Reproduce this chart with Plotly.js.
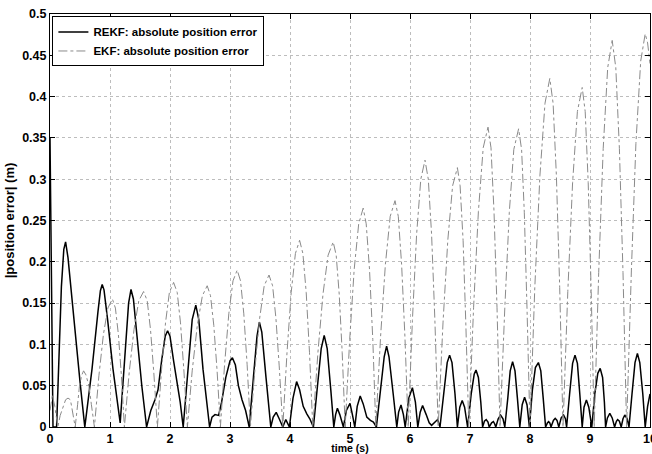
<!DOCTYPE html>
<html>
<head>
<meta charset="utf-8">
<script src="https://cdn.plot.ly/plotly-3.0.1.min.js"></script>
<style>html,body{margin:0;padding:0;background:#fff;overflow:hidden;}#chart{width:652px;height:454px;}</style>
</head>
<body>
<div id="chart"></div>
<script>
// REKF absolute position error (time in s, error in m)
const rekfT = [0,0.05,0.11,0.15,0.19,0.23,0.26,0.30,0.40,0.50,0.58,
  0.70,0.80,0.84,0.87,0.90,0.96,1.05,1.17,
  1.25,1.31,1.35,1.39,1.45,1.53,1.61,
  1.68,1.75,1.80,1.86,1.92,1.96,2.00,2.06,2.12,2.17,2.22,
  2.30,2.37,2.43,2.48,2.55,2.62,2.66,
  2.70,2.75,2.81,2.86,2.93,3.00,3.04,3.09,3.14,3.20,3.26,3.32,
  3.39,3.45,3.49,3.53,3.60,3.68,
  3.72,3.77,3.82,3.88,3.93,3.99,4.05,4.11,4.16,4.22,4.28,4.33,4.39,
  4.46,4.52,4.57,4.62,4.68,4.73,
  4.76,4.79,4.83,4.89,4.94,5.00,5.04,5.08,5.12,5.17,5.22,5.28,5.34,5.39,5.44,
  5.51,5.57,5.61,5.65,5.72,5.78,
  5.81,5.85,5.89,5.92,5.98,6.04,6.09,6.13,6.17,6.21,6.27,6.32,6.36,6.42,6.46,6.50,
  6.56,6.62,6.66,6.70,6.75,6.79,
  6.83,6.87,6.91,6.96,7.02,7.07,7.10,7.14,7.18,7.21,7.24,7.27,7.30,7.32,7.36,7.39,7.41,7.43,7.47,7.51,7.55,7.58,
  7.63,7.67,7.71,7.75,7.79,7.83,
  7.87,7.91,7.95,7.99,8.04,8.09,8.14,8.18,8.22,8.26,
  8.29,8.31,8.33,8.35,8.39,8.42,8.45,8.48,8.52,8.56,8.59,8.61,
  8.66,8.71,8.75,8.79,8.83,8.87,
  8.90,8.94,8.98,9.03,9.08,9.13,9.17,9.21,9.24,9.26,
  9.29,9.33,9.37,9.41,9.44,9.46,9.49,9.52,9.55,9.58,9.62,9.65,
  9.70,9.75,9.79,9.83,9.88,9.92,9.96,10.0];
const rekfErr = [0.35,0,0,0.09,0.17,0.215,0.224,0.205,0.125,0.055,0,
  0.07,0.14,0.165,0.1725,0.166,0.13,0.07,0.005,
  0.09,0.15,0.1665,0.155,0.11,0.05,0,
  0.02,0.033,0.045,0.08,0.11,0.1165,0.11,0.08,0.055,0.03,0,
  0.07,0.13,0.1475,0.13,0.07,0.02,0,
  0.012,0.015,0.014,0.03,0.06,0.08,0.0838,0.075,0.05,0.033,0.02,0,
  0.06,0.11,0.127,0.115,0.06,0,
  0.012,0.0177,0.01,0,0.009,0,0.035,0.055,0.045,0.025,0.016,0.01,0,
  0.05,0.095,0.111,0.095,0.045,0,
  0.015,0.0226,0.015,0,0.02,0.0286,0.015,0,0.025,0.0375,0.028,0.012,0.008,0.006,0,
  0.045,0.085,0.098,0.085,0.04,0,
  0.018,0.0266,0.015,0,0.035,0.0476,0.03,0,0.018,0.026,0.015,0.005,0.002,0.007,0.009,0,
  0.04,0.078,0.087,0.078,0.04,0,
  0.024,0.032,0.024,0,0.04,0.064,0.069,0.06,0.03,0,0.007,0.009,0.006,0,0.005,0.0065,0.004,0,0.01,0.0145,0.01,0,
  0.035,0.068,0.079,0.068,0.035,0,
  0.027,0.036,0.027,0,0.045,0.072,0.078,0.068,0.035,0,
  0.005,0.0065,0.005,0,0.008,0.0105,0.008,0,0.011,0.0145,0.01,0,
  0.04,0.077,0.087,0.077,0.04,0,
  0.024,0.0326,0.024,0,0.04,0.065,0.071,0.06,0.03,0,
  0.011,0.0165,0.011,0,0.007,0.009,0.007,0,0.01,0.0145,0.01,0,
  0.04,0.078,0.089,0.078,0.04,0,0.025,0.04];

// EKF absolute position error
const ekfT = [0,0.04,0.08,0.13,
  0.17,0.22,0.26,0.30,0.34,0.36,0.39,0.42,
  0.46,0.49,0.53,0.56,0.60,0.65,0.69,0.74,
  0.815,0.89,0.965,1.04,1.09,1.14,1.19,1.24,
  1.32,1.40,1.48,1.56,1.62,1.675,1.73,1.79,
  1.86,1.925,1.99,2.06,2.12,2.175,2.23,2.29,
  2.37,2.455,2.54,2.62,2.675,2.73,2.785,2.84,
  2.91,2.98,3.05,3.12,3.175,3.23,3.285,3.34,
  3.42,3.495,3.57,3.65,3.71,3.765,3.82,3.88,
  3.95,4.02,4.09,4.16,4.215,4.27,4.325,4.38,
  4.465,4.55,4.635,4.72,4.77,4.82,4.87,4.92,
  4.995,5.07,5.145,5.22,5.27,5.325,5.38,5.43,
  5.51,5.59,5.67,5.75,5.805,5.86,5.915,5.97,
  6.04,6.11,6.18,6.25,6.305,6.36,6.415,6.47,
  6.55,6.63,6.71,6.79,6.835,6.885,6.93,6.98,
  7.06,7.14,7.22,7.30,7.35,7.40,7.45,7.50,
  7.58,7.655,7.73,7.81,7.86,7.905,7.95,8.00,
  8.08,8.165,8.25,8.33,8.385,8.44,8.495,8.55,
  8.63,8.71,8.79,8.87,8.92,8.97,9.02,9.07,
  9.145,9.22,9.295,9.37,9.43,9.49,9.55,9.61,
  9.69,9.765,9.845,9.92,9.96,10.0];
const ekfErr = [0.02,0.038,0.025,0,
  0.014,0.025,0.033,0.035,0.033,0.025,0.014,0,
  0.027,0.049,0.063,0.068,0.063,0.049,0.027,0,
  0.062,0.112,0.144,0.155,0.144,0.112,0.062,0,
  0.066,0.118,0.153,0.164,0.153,0.118,0.066,0,
  0.07,0.126,0.163,0.175,0.163,0.126,0.07,0,
  0.068,0.123,0.159,0.171,0.159,0.123,0.068,0,
  0.076,0.137,0.177,0.19,0.177,0.137,0.076,0,
  0.074,0.132,0.171,0.184,0.171,0.132,0.074,0,
  0.09,0.163,0.21,0.226,0.21,0.163,0.09,0,
  0.09,0.161,0.208,0.224,0.208,0.161,0.09,0,
  0.106,0.191,0.246,0.265,0.246,0.191,0.106,0,
  0.11,0.197,0.255,0.274,0.255,0.197,0.11,0,
  0.129,0.233,0.30,0.323,0.30,0.233,0.129,0,
  0.126,0.226,0.292,0.314,0.292,0.226,0.126,0,
  0.145,0.261,0.338,0.363,0.338,0.261,0.145,0,
  0.144,0.26,0.336,0.361,0.336,0.26,0.144,0,
  0.169,0.304,0.392,0.422,0.392,0.304,0.169,0,
  0.164,0.296,0.382,0.411,0.382,0.296,0.164,0,
  0.187,0.337,0.435,0.468,0.435,0.337,0.187,0,
  0.19,0.343,0.443,0.476,0.465,0.44];

const seriesNames = ['REKF: absolute position error', 'EKF: absolute position error'];
const xTicks = [0,1,2,3,4,5,6,7,8,9,10];
const xTickText = ['0','1','2','3','4','5','6','7','8','9','10'];
const yTicks = [0,0.05,0.1,0.15,0.2,0.25,0.3,0.35,0.4,0.45,0.5];
const yTickText = ['0','0.05','0.1','0.15','0.2','0.25','0.3','0.35','0.4','0.45','0.5'];

const fontFam = 'Arial, Liberation Sans, sans-serif';

const traces = [
  {x: rekfT, y: rekfErr, name: seriesNames[0], type: 'scatter', mode: 'lines',
   line: {color: '#000000', width: 1.5}},
  {x: ekfT, y: ekfErr, name: seriesNames[1], type: 'scatter', mode: 'lines',
   line: {color: '#8a8a8a', width: 1, dash: 'dashdot'}}
];

const axisCommon = {
  showline: true, linecolor: '#000', linewidth: 1, mirror: 'ticks',
  ticks: 'inside', ticklen: 5, tickcolor: '#000', tickwidth: 1,
  showgrid: true, gridcolor: '#bdbdbd', griddash: 'dot', gridwidth: 1,
  zeroline: false, ticklabeloverflow: 'allow',
  tickfont: {family: fontFam, size: 12.5, color: '#000', weight: 700}
};

const layout = {
  width: 652, height: 454,
  margin: {l: 50, r: 2, t: 14, b: 27},
  paper_bgcolor: '#fff', plot_bgcolor: '#fff',
  showlegend: true,
  legend: {x: 0.004, y: 0.994, xanchor: 'left', yanchor: 'top',
    bgcolor: '#fff', bordercolor: '#000', borderwidth: 1,
    font: {family: fontFam, size: 11.5, color: '#000', weight: 700},
    tracegroupgap: 0, itemwidth: 30},
  xaxis: Object.assign({}, axisCommon, {
    range: [0, 10], tickvals: xTicks, ticktext: xTickText,
    title: {text: 'time (s)', standoff: 3, font: {family: fontFam, size: 10.5, color: '#000', weight: 700}}
  }),
  yaxis: Object.assign({}, axisCommon, {
    range: [0, 0.5], tickvals: yTicks, ticktext: yTickText,
    title: {text: '|position error| (m)', standoff: 4, font: {family: fontFam, size: 13, color: '#000', weight: 700}}
  })
};

Plotly.newPlot('chart', traces, layout, {displayModeBar: false, staticPlot: true});
</script>
</body>
</html>
